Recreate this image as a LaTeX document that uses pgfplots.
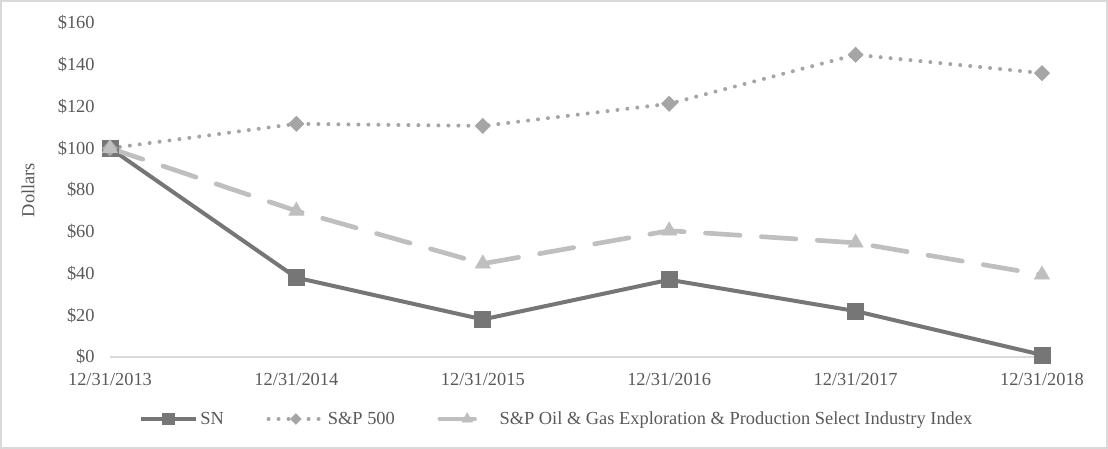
\documentclass[border=0pt]{standalone}
\usepackage{pgfplots}
\pgfplotsset{compat=1.18}
\usepackage{fontspec}
\setmainfont{Liberation Serif}
\definecolor{txt}{HTML}{595959}
\definecolor{snc}{HTML}{767676}
\definecolor{spc}{HTML}{A5A5A5}
\definecolor{ogc}{HTML}{BFBFBF}
\definecolor{frm}{HTML}{D9D9D9}
\begin{document}
\begin{tikzpicture}
\draw[frm, line width=1.5pt] (0.75pt,0.75pt) rectangle (830.25pt,336pt);
\begin{axis}[
  at={(82.5pt,69pt)}, anchor=south west,
  scale only axis, width=699pt, height=250.5pt,
  xmin=0, xmax=5, ymin=0, ymax=160,
  clip=false,
  axis lines*=left,
  axis line style={-},
  y axis line style={draw=none},
  x axis line style={draw=frm, line width=1pt},
  major tick length=0pt,
  xtick={0,1,2,3,4,5},
  xticklabels={12/31/2013,12/31/2014,12/31/2015,12/31/2016,12/31/2017,12/31/2018},
  ytick={0,20,40,60,80,100,120,140,160},
  yticklabels={\$0,\$20,\$40,\$60,\$80,\$100,\$120,\$140,\$160},
  tick label style={font=\fontsize{13.8}{16}\selectfont, text=txt},
  yticklabel style={xshift=-8pt},
  xticklabel style={yshift=-8.5pt},
  ylabel={Dollars},
  ylabel style={at={(axis description cs:-0.088,0.5)}, anchor=center, font=\fontsize{13.8}{16}\selectfont, text=txt},
  legend columns=3,
  legend style={at={(axis description cs:0.4796,-0.1856)}, anchor=center, draw=none, fill=none,
    font=\fontsize{13.8}{16}\selectfont, text=txt,
    /tikz/every even column/.append style={column sep=30pt}},
  legend cell align=left,
  legend image code/.code={\draw[mark repeat=2,mark phase=2,#1, every mark/.append style={scale=0.7}] plot coordinates {(0pt,0pt)(20.5pt,0pt)(41pt,0pt)};},
]
\addplot[snc, line width=3pt, mark=square*, mark size=6pt, mark options={solid, line width=0.5pt}]
  coordinates {(0,100)(1,38)(2,18)(3,37)(4,22)(5,1)};
\addlegendentry{SN}
\addplot[spc, line width=3pt, line cap=round, dash pattern=on 0pt off 7.5pt, mark=square*, mark size=4pt, mark options={solid, rotate=45, line width=0.5pt}]
  coordinates {(0,100)(1,111.7)(2,110.7)(3,121.3)(4,144.8)(5,136)};
\addlegendentry{S\&P 500}
\addplot[ogc, line width=3.5pt, line cap=round, dash pattern=on 26pt off 16pt, mark=triangle*, mark size=6.5pt, mark options={solid, line width=0.5pt}]
  coordinates {(0,100)(1,70)(2,44.7)(3,60.5)(4,54.7)(5,39.4)};
\addlegendentry{S\&P Oil \& Gas Exploration \& Production Select Industry Index}
\end{axis}
\end{tikzpicture}
\end{document}
